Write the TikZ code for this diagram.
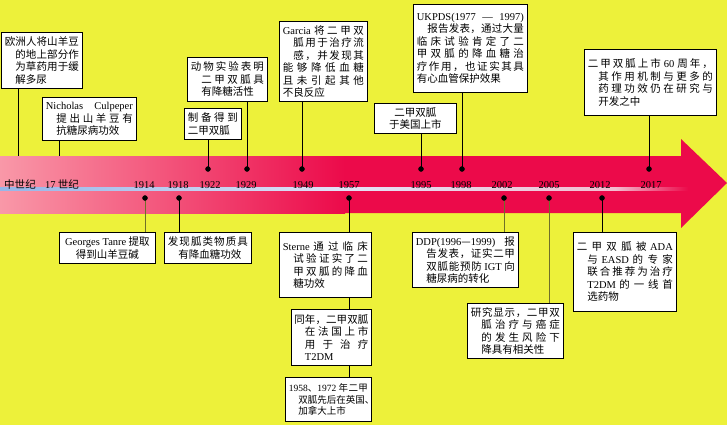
\documentclass[tikz,border=0pt]{standalone}
\usepackage{fontspec}
\setmainfont{Noto Sans CJK SC}
\newfontfamily\latfont{Liberation Serif}
\newcommand{\lat}[1]{{\latfont #1}}
\newcommand{\hng}{\noindent\hangindent=1em\hangafter=1\relax}
\newcommand{\nospread}{\XeTeXinterchartokenstate=0\relax}
\usetikzlibrary{calc}

\definecolor{bgyellow}{RGB}{237,241,58}
\definecolor{arrowred}{RGB}{236,10,74}
\definecolor{arrowpink}{RGB}{249,152,168}
\definecolor{lineblue}{RGB}{150,182,232}
\definecolor{linepale}{RGB}{226,226,246}
\definecolor{linepink}{RGB}{242,190,208}
\definecolor{lineolive}{RGB}{112,112,40}

% glue between han characters, so that lines can be spread
\XeTeXinterchartokenstate=1
\newXeTeXintercharclass\hanclass
\newcount\hancode
\hancode="3000
\loop
  \XeTeXcharclass\hancode=\hanclass
  \advance\hancode by 1
\ifnum\hancode<"A000 \repeat
\hancode="FF00
\loop
  \XeTeXcharclass\hancode=\hanclass
  \advance\hancode by 1
\ifnum\hancode<"FFF0 \repeat
\XeTeXinterchartoks\hanclass\hanclass={\nobreak\hskip0pt plus 4pt\relax}
\hbadness=10000
\hfuzz=20pt

\begin{document}
\begin{tikzpicture}[x=1pt, y=-1pt,
    box/.style={draw, line width=0.8pt, fill=white, anchor=north west, inner xsep=3.5pt,
      inner ysep=2pt, align=justify, font=\fontsize{10.5}{12.5}\selectfont},
    cbox/.style={box, align=center, font=\fontsize{10.5}{12.5}\selectfont\nospread},
    conn/.style={line width=1pt},
    yearlbl/.style={anchor=base, inner sep=0pt, font=\fontsize{10.5}{12}\selectfont\nospread}]

    \fill[bgyellow] (0,0) rectangle (727,425);

    % the arrow
    \fill[arrowred] (0,156) -- (681,156) -- (681,139) -- (727,183) -- (681,228) -- (681,213) -- (0,213) -- cycle;
    \shade[left color=arrowpink, right color=arrowred] (0,156) rectangle (345,213);
    \shade[left color=lineblue, right color=linepale] (0,187.5) rectangle (345,190.5);
    \shade[left color=linepale, right color=linepink] (345,187.5) rectangle (615,190.5);
    \shade[left color=linepink, right color=arrowred] (615,187.5) rectangle (688,190.5);

    \coordinate (M0) at (18,156);
    \coordinate (M17) at (59,156);
    \coordinate (D1914) at (145,198);
    \coordinate (D1918) at (179,198);
    \coordinate (D1922) at (208,169);
    \coordinate (D1929) at (247,169);
    \coordinate (D1949) at (302,169);
    \coordinate (D1957) at (349,198);
    \coordinate (D1995) at (421,169);
    \coordinate (D1998) at (462,169);
    \coordinate (D2002) at (504,198);
    \coordinate (D2005) at (549,198);
    \coordinate (D2012) at (602,198);
    \coordinate (D2017) at (649,169);

    \node[yearlbl] (Ymid) at (20,188) {中世纪};
    \node[yearlbl] (Y17) at (62,188) {\lat{17} 世纪};
    \foreach \yr/\xx in {1914/144, 1918/178, 1922/210, 1929/246, 1949/303, 1957/349,
        1995/421, 1998/461, 2002/502, 2005/549, 2012/600, 2017/651}
      \node[yearlbl] (Y\yr) at (\xx,188) {\lat{\yr}};

    % above the arrow
    \node[box, minimum width=81pt, minimum height=56pt, text width=74pt] (B1) at (1,32)
      {\hng 欧洲人将山羊豆\break 的地上部分作\break 为草药用于缓\break 解多尿\par};
    \node[box, minimum width=94pt, minimum height=43pt, text width=87pt] (B2) at (42,97)
      {\hng\lat{Nicholas Culpeper}\break 提出山羊豆有\break 抗糖尿病功效\par};
    \node[box, minimum width=57pt, minimum height=31pt, text width=50pt] (B3) at (184,108)
      {\noindent 制备得到\break 二甲双胍\par};
    \node[box, minimum width=80pt, minimum height=44pt, text width=73pt] (B4) at (187,57)
      {\hng 动物实验表明\break 二甲双胍具\break 有降糖活性\par};
    \node[box, minimum width=88pt, minimum height=80pt, text width=81pt] (B5) at (279,21)
      {\noindent\parshape 4 0pt 81pt 10.5pt 70.5pt 10.5pt 70.5pt 0pt 81pt
       \lat{Garcia} 将二甲双\break 胍用于治疗流\break 感，并发现其\break 能够降低血糖\break 且未引起其他\break 不良反应\par};
    \node[box, minimum width=114pt, minimum height=88pt, text width=107pt] (B6) at (413,4)
      {\noindent\parshape 3 0pt 107pt 10.5pt 96.5pt 0pt 107pt
       \lat{UKPDS(1977 — 1997)}\break 报告发表，通过大量\break 临床试验肯定了二\break 甲双胍的降血糖治\break 疗作用，也证实其具\break 有心血管保护效果\par};
    \node[cbox, minimum width=82pt, minimum height=30pt] (B7) at (374,103)
      {二甲双胍\\于美国上市};
    \node[box, minimum width=132pt, minimum height=66pt, text width=125pt] (B8) at (584,49)
      {\hng 二甲双胍上市 \lat{60} 周年，\break 其作用机制与更多的\break 药理功效仍在研究与\break 开发之中\par};

    % below the arrow
    \node[cbox, minimum width=96pt, minimum height=31pt] (B9) at (59,232)
      {\lat{Georges Tanre} 提取\\得到山羊豆碱};
    \node[box, minimum width=87pt, minimum height=31pt, text width=80pt] (B10) at (164,232)
      {\hng 发现胍类物质具\break 有降血糖功效\par};
    \node[box, minimum width=92pt, minimum height=65pt, text width=85pt] (B11) at (279,232)
      {\hng\lat{Sterne} 通过临床\break 试验证实了二\break 甲双胍的降血\break 糖功效\par};
    \node[box, inner xsep=3pt, minimum width=80pt, minimum height=56pt, text width=74pt] (B12) at (291,309)
      {\hng 同年，二甲双胍\break 在法国上市\break 用于治疗\break\lat{T2DM}\par};
    \node[box, font=\fontsize{9.5}{11.5}\selectfont, minimum width=86pt, minimum height=44pt, text width=79pt] (B13) at (285,377)
      {\hng\lat{1958}、\lat{1972} 年二甲\break 双胍先后在英国、\break 加拿大上市\par};
    \node[box, minimum width=106pt, minimum height=55pt, text width=99pt] (B14) at (412,232)
      {\hng\lat{DDP(1996}—\lat{1999)} 报\break 告发表，证实二甲\break 双胍能预防 \lat{IGT} 向\break 糖尿病的转化\par};
    \node[box, minimum width=96pt, minimum height=55pt, text width=89pt] (B15) at (467,303)
      {\hng 研究显示，二甲双\break 胍治疗与癌症\break 的发生风险下\break 降具有相关性\par};
    \node[box, minimum width=103pt, minimum height=79pt, text width=96pt] (B16) at (573,232)
      {\hng 二甲双胍被 \lat{ADA}\break 与 \lat{EASD} 的专家\break 联合推荐为治疗\break\lat{T2DM} 的一线首\break 选药物\par};

    % connectors
    \draw[conn] (B1.south -| M0) -- (M0);
    \draw[conn] (B2.south -| M17) -- (M17);
    \draw[conn] (B3.south -| D1922) -- (D1922);
    \draw[conn] (B4.south -| D1929) -- (D1929);
    \draw[conn] (B5.south -| D1949) -- (D1949);
    \draw[conn] (B7.south -| D1995) -- (D1995);
    \draw[conn] (B6.south -| D1998) -- (D1998);
    \draw[conn] (B8.south -| D2017) -- (D2017);
    \draw[conn, lineolive] (D1914) -- (B9.north -| D1914);
    \draw[conn] (D1918) -- (B10.north -| D1918);
    \draw[conn] (D1957) -- (B11.north -| D1957);
    \draw[conn] (B11.south -| D1957) -- (B12.north -| D1957);
    \draw[conn] (B12.south -| D1957) -- (B13.north -| D1957);
    \draw[conn, lineolive] (D2002) -- (B14.north -| D2002);
    \draw[conn, lineolive] (D2005) -- (B15.north -| D2005);
    \draw[conn] (D2012) -- (B16.north -| D2012);

    \foreach \yr in {1914,1918,1922,1929,1949,1957,1995,1998,2002,2005,2012,2017}
      \filldraw[black] (D\yr) circle (2.5pt);

\end{tikzpicture}
\end{document}
